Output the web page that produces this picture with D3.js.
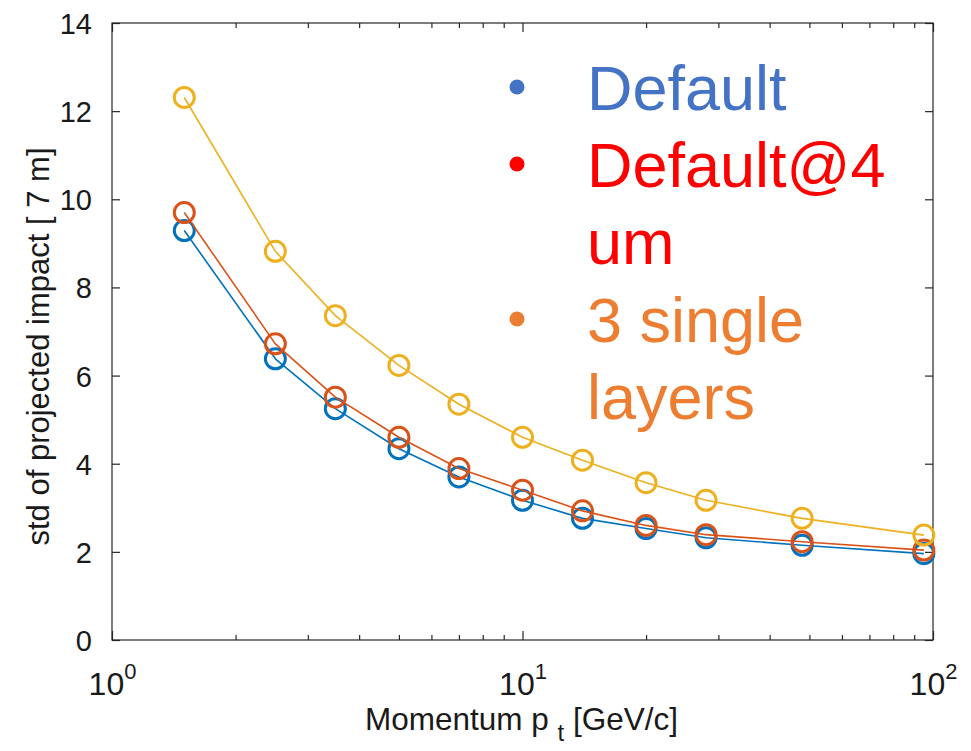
<!DOCTYPE html>
<html>
<head>
<meta charset="utf-8">
<script src="https://cdn.jsdelivr.net/npm/d3@7"></script>
<style>
  html, body { margin: 0; padding: 0; background: #fff; }
  svg { display: block; font-family: "Liberation Sans", Arial, Helvetica, sans-serif; }
</style>
</head>
<body>
<svg id="chart" width="971" height="751"></svg>
<script>
// Transverse momentum values (GeV/c)
const momentum = [1.5, 2.5, 3.5, 5, 7, 10, 14, 20, 28, 48, 95];

// Standard deviation of projected impact for each configuration
const defaultStd   = [9.29, 6.38, 5.25, 4.34, 3.70, 3.17, 2.76, 2.53, 2.32, 2.15, 1.96];
const default4Std  = [9.70, 6.72, 5.51, 4.60, 3.89, 3.40, 2.93, 2.60, 2.39, 2.23, 2.04];
const singleStd    = [12.31, 8.82, 7.36, 6.23, 5.35, 4.60, 4.08, 3.57, 3.17, 2.76, 2.38];

const seriesNames  = ["Default", "Default@4", "3 single layers"];
const legendLines  = [["Default"], ["Default@4", "um"], ["3 single", "layers"]];

const yTicks = [0, 2, 4, 6, 8, 10, 12, 14];
const xMajorTicks = [1, 10, 100];
const xMinorTicks = [2, 3, 4, 5, 6, 7, 8, 9, 20, 30, 40, 50, 60, 70, 80, 90];

const lineColors   = ["#0072BD", "#D95319", "#EDB120"];
const legendColors = ["#4472C4", "#FF0000", "#ED7D31"];

const svg = d3.select("#chart");
const plotLeft = 112, plotRight = 933, plotTop = 23, plotBottom = 640;

const x = d3.scaleLog().domain([1, 100]).range([plotLeft, plotRight]);
const y = d3.scaleLinear().domain([0, 14]).range([plotBottom, plotTop]);

const axisColor = "#262626";

// Box outline
svg.append("rect")
  .attr("x", plotLeft).attr("y", plotTop)
  .attr("width", plotRight - plotLeft).attr("height", plotBottom - plotTop)
  .attr("fill", "none").attr("stroke", axisColor).attr("stroke-width", 1.2);

function styleAxis(g) {
  g.select(".domain").remove();
  g.selectAll(".tick line").attr("stroke", axisColor).attr("stroke-width", 1.2);
  g.selectAll("text").attr("fill", "#1a1a1a");
}

// Y axes (left with labels, right ticks only), ticks pointing inward
const yLeft = svg.append("g").attr("transform", `translate(${plotLeft},0)`)
  .call(d3.axisLeft(y).tickValues(yTicks).tickSize(-8).tickPadding(20).tickFormat(d3.format("d")));
styleAxis(yLeft);
yLeft.selectAll("text").attr("font-size", 29).attr("dy", "0.36em");

const yRight = svg.append("g").attr("transform", `translate(${plotRight},0)`)
  .call(d3.axisRight(y).tickValues(yTicks).tickSize(-8).tickFormat(""));
styleAxis(yRight);

// X axes: major decades with power labels, minor ticks
const xBottom = svg.append("g").attr("transform", `translate(0,${plotBottom})`)
  .call(d3.axisBottom(x).tickValues(xMajorTicks).tickSize(-9).tickFormat(""));
styleAxis(xBottom);
xBottom.selectAll(".tick").each(function(d) {
  const t = d3.select(this).append("text")
    .attr("y", 55).attr("text-anchor", "middle")
    .attr("fill", "#1a1a1a").attr("font-size", 32);
  t.append("tspan").text("10");
  t.append("tspan").attr("dy", -16).attr("font-size", 22).text(Math.round(Math.log10(d)));
});

const xBottomMinor = svg.append("g").attr("transform", `translate(0,${plotBottom})`)
  .call(d3.axisBottom(x).tickValues(xMinorTicks).tickSize(-5).tickFormat(""));
styleAxis(xBottomMinor);

const xTop = svg.append("g").attr("transform", `translate(0,${plotTop})`)
  .call(d3.axisTop(x).tickValues(xMajorTicks).tickSize(-9).tickFormat(""));
styleAxis(xTop);
const xTopMinor = svg.append("g").attr("transform", `translate(0,${plotTop})`)
  .call(d3.axisTop(x).tickValues(xMinorTicks).tickSize(-5).tickFormat(""));
styleAxis(xTopMinor);

// Axis titles
const xTitle = svg.append("text")
  .attr("x", (plotLeft + plotRight) / 2 - 1).attr("y", 730)
  .attr("text-anchor", "middle").attr("font-size", 31.5).attr("fill", "#1a1a1a");
xTitle.append("tspan").text("Momentum p ");
xTitle.append("tspan").attr("dy", 11).attr("font-size", 24).text("t");
xTitle.append("tspan").attr("dy", -11).text(" [GeV/c]");

svg.append("text")
  .attr("transform", `translate(49,${(plotTop + plotBottom) / 2 + 15}) rotate(-90)`)
  .attr("text-anchor", "middle").attr("font-size", 31).attr("fill", "#1a1a1a")
  .text("std of projected impact [ 7 m]");

// Polylines and markers
const allSeries = [defaultStd, default4Std, singleStd];
const line = d3.line()
  .x((d, i) => x(momentum[i]))
  .y(d => y(d));

allSeries.forEach((vals, s) => {
  const g = svg.append("g").attr("class", "series");
  g.append("path")
    .datum(vals)
    .attr("d", line)
    .attr("fill", "none")
    .attr("stroke", lineColors[s])
    .attr("stroke-width", 1.6)
    .attr("stroke-linejoin", "round");
  g.selectAll("circle")
    .data(vals)
    .join("circle")
    .attr("cx", (d, i) => x(momentum[i]))
    .attr("cy", d => y(d))
    .attr("r", 10)
    .attr("fill", "none")
    .attr("stroke", lineColors[s])
    .attr("stroke-width", 3);
});

// Bulleted legend
const legendBaselines = [[110], [187, 264], [342, 419]];
legendLines.forEach((lines, s) => {
  svg.append("circle")
    .attr("cx", 517).attr("cy", legendBaselines[s][0] - 23)
    .attr("r", 7.5).attr("fill", legendColors[s]);
  lines.forEach((txt, k) => {
    svg.append("text")
      .attr("x", 587).attr("y", legendBaselines[s][k])
      .attr("font-size", 63).attr("fill", legendColors[s])
      .text(txt);
  });
});
</script>
</body>
</html>
